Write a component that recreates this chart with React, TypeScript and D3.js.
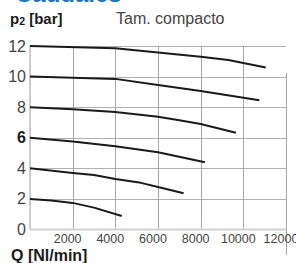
import * as d3 from 'd3'

type Pt = { q: number; p: number }

const yTicks = [0, 2, 4, 6, 8, 10, 12]
const xTicks = [2000, 4000, 6000, 8000, 10000, 12000]

const curve12: Pt[] = [
  { q: 0, p: 12 },
  { q: 4000, p: 11.85 },
  { q: 6000, p: 11.58 },
  { q: 8000, p: 11.3 },
  { q: 9300, p: 11.08 },
  { q: 11050, p: 10.6 },
]
const curve10: Pt[] = [
  { q: 0, p: 10 },
  { q: 4000, p: 9.85 },
  { q: 6000, p: 9.45 },
  { q: 8000, p: 9.05 },
  { q: 10750, p: 8.45 },
]
const curve8: Pt[] = [
  { q: 0, p: 8.0 },
  { q: 2000, p: 7.87 },
  { q: 4000, p: 7.68 },
  { q: 6000, p: 7.37 },
  { q: 7000, p: 7.15 },
  { q: 8000, p: 6.9 },
  { q: 9650, p: 6.33 },
]
const curve6: Pt[] = [
  { q: 0, p: 6.0 },
  { q: 2000, p: 5.75 },
  { q: 4000, p: 5.45 },
  { q: 6000, p: 5.05 },
  { q: 8200, p: 4.4 },
]
const curve4: Pt[] = [
  { q: 0, p: 4.0 },
  { q: 2000, p: 3.7 },
  { q: 3000, p: 3.56 },
  { q: 4000, p: 3.3 },
  { q: 5200, p: 3.05 },
  { q: 6000, p: 2.78 },
  { q: 7200, p: 2.37 },
]
const curve2: Pt[] = [
  { q: 0, p: 2.0 },
  { q: 1000, p: 1.9 },
  { q: 2000, p: 1.74 },
  { q: 3000, p: 1.43 },
  { q: 4300, p: 0.88 },
]

const curves = [curve12, curve10, curve8, curve6, curve4, curve2]

export default function App() {
  const width = 296
  const height = 263
  const margin = { top: 46, right: 10, bottom: 34, left: 30 }

  const x = d3.scaleLinear().domain([0, 12000]).range([margin.left, 286])
  const y = d3.scaleLinear().domain([0, 12]).range([229.5, margin.top])

  const line = d3
    .line<Pt>()
    .x(d => x(d.q))
    .y(d => y(d.p))

  const font = '"Liberation Sans", Arial, Helvetica, sans-serif'

  return (
    <svg
      width={width}
      height={height}
      style={{ position: 'absolute', left: 0, top: 0, background: '#fff' }}
      fontFamily={font}
    >
      <text x={15} y={2} fontSize={24} fontWeight="bold" fill="#1f75b8">
        Caudales
      </text>
      <text x={10} y={24} fontSize={15} fontWeight="bold" fill="#1a1a1a">
        p<tspan fontSize={10.5} dy={1}>2</tspan>
        <tspan dy={-1}> [bar]</tspan>
      </text>
      <text x={116} y={24} fontSize={16} fill="#444">
        Tam. compacto
      </text>

      {/* grid */}
      {yTicks.filter(t => t > 0).map(t => (
        <line
          key={`h-${t}`}
          x1={x(0)}
          x2={x(12000)}
          y1={Math.round(y(t)) + 0.5}
          y2={Math.round(y(t)) + 0.5}
          stroke="#b0b0b0"
          strokeWidth={1}
        />
      ))}
      {xTicks.map(t => (
        <line
          key={`v-${t}`}
          x1={Math.round(x(t)) + 0.5}
          x2={Math.round(x(t)) + 0.5}
          y1={t === 12000 ? 73 : y(12)}
          y2={t === 12000 ? 255 : y(0)}
          stroke="#a8a8a8"
          strokeWidth={1}
        />
      ))}
      <line x1={x(0)} x2={x(0)} y1={y(12)} y2={y(0)} stroke="#9a9a9a" strokeWidth={1} />
      <line x1={x(0)} x2={x(12000)} y1={y(0)} y2={y(0)} stroke="#d0d0d0" strokeWidth={2} />

      {/* y labels */}
      {yTicks.map(t => (
        <text
          key={`yl-${t}`}
          x={26}
          y={y(t) + 5.5}
          textAnchor="end"
          fontSize={16}
          fontWeight={t === 6 ? 'bold' : 'normal'}
          fill={t === 6 ? '#1a1a1a' : '#444'}
        >
          {t}
        </text>
      ))}

      {/* x labels */}
      {xTicks.map(t => (
        <text
          key={`xl-${t}`}
          x={x(t) - 5}
          y={243}
          textAnchor="middle"
          fontSize={12.5}
          fill="#444"
        >
          {t}
        </text>
      ))}

      {curves.map((c, i) => (
        <path
          key={`c-${i}`}
          d={line(c) ?? ''}
          fill="none"
          stroke="#1a1a1a"
          strokeWidth={2}
          strokeLinejoin="round"
        />
      ))}

      <text x={11} y={261} fontSize={16} fontWeight="bold" fill="#1a1a1a">
        Q [Nl/min]
      </text>
    </svg>
  )
}
